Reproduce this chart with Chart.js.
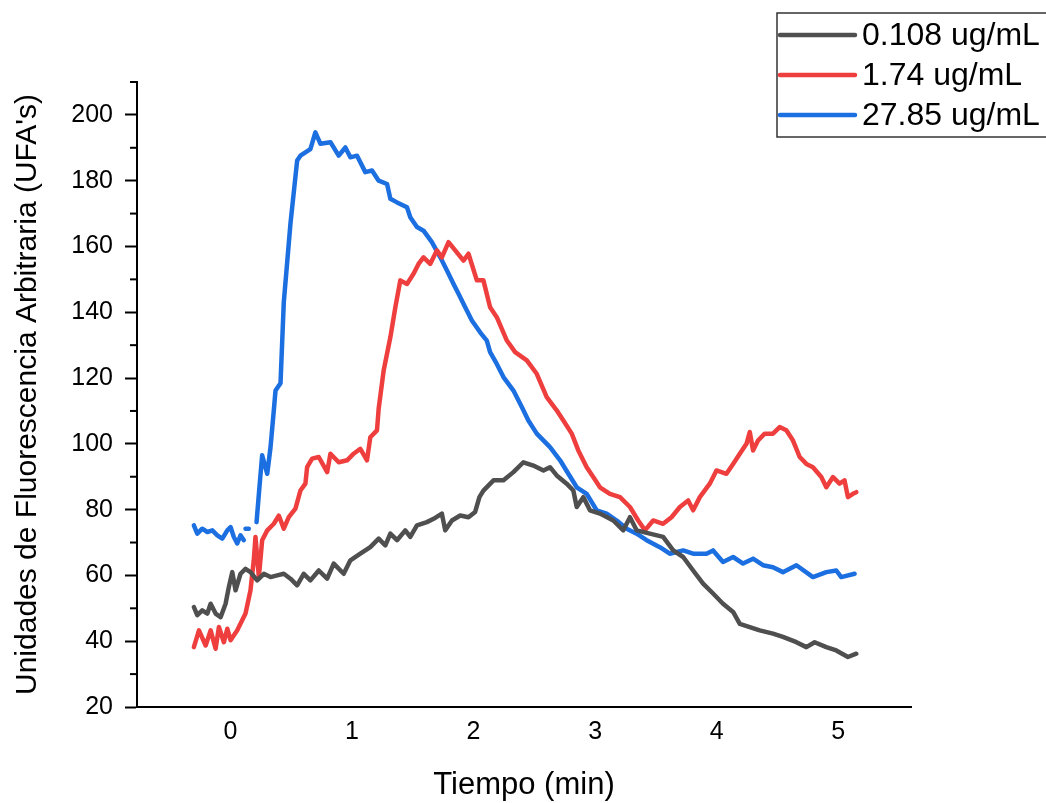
<!DOCTYPE html>
<html>
<head>
<meta charset="utf-8">
<script src="https://cdn.jsdelivr.net/npm/chart.js@4.4.1/dist/chart.umd.min.js"></script>
<style>
  html, body { margin: 0; padding: 0; background: #fff; }
  canvas { display: block; }
</style>
</head>
<body>
<canvas id="fluorChart" width="1046" height="803"></canvas>
<script>
// Series (time in min, fluorescence in UFA's)
const seriesLabels = ['0.108 ug/mL', '1.74 ug/mL', '27.85 ug/mL'];
const seriesColors = ['#4f4f4f', '#ef3e3e', '#1c6fe0'];

const grayTime = [-0.302, -0.274, -0.233, -0.191, -0.164, -0.123, -0.082, -0.041, -0.014, 0.014,
    0.041, 0.082, 0.123, 0.164, 0.219, 0.274, 0.329, 0.384, 0.438, 0.493,
    0.548, 0.602, 0.657, 0.726, 0.795, 0.849, 0.931, 0.986, 1.068, 1.150,
    1.219, 1.274, 1.315, 1.370, 1.438, 1.479, 1.534, 1.616, 1.671, 1.739,
    1.767, 1.822, 1.890, 1.958, 2.013, 2.048, 2.081, 2.164, 2.246, 2.328,
    2.410, 2.492, 2.575, 2.629, 2.684, 2.766, 2.821, 2.849, 2.903, 2.958,
    3.040, 3.150, 3.232, 3.287, 3.342, 3.451, 3.560, 3.643, 3.725, 3.807,
    3.889, 3.971, 4.053, 4.136, 4.191, 4.273, 4.355, 4.464, 4.546, 4.657,
    4.739, 4.807, 4.903, 4.985, 5.081, 5.150];
const grayValues = [50.4, 47.9, 49.4, 48.4, 51.4, 48.4, 47.3, 51.4, 56.5, 61.0,
    55.5, 60.5, 62.0, 61.0, 58.5, 60.5, 59.5, 60.0, 60.5, 59.0,
    57.0, 60.5, 58.5, 61.5, 59.0, 63.6, 60.5, 64.6, 66.6, 68.6,
    71.2, 69.1, 72.7, 70.7, 73.7, 71.7, 75.2, 76.2, 77.2, 78.8,
    73.7, 76.7, 78.2, 77.7, 79.3, 83.8, 85.8, 88.9, 88.9, 91.4,
    94.4, 93.4, 91.9, 92.9, 90.4, 87.9, 85.8, 80.8, 83.8, 79.8,
    78.8, 76.7, 73.7, 77.7, 73.7, 72.7, 71.7, 67.6, 65.6, 61.5,
    57.5, 54.5, 51.4, 48.9, 45.3, 44.3, 43.3, 42.3, 41.3, 39.7,
    38.2, 39.7, 38.2, 37.2, 35.2, 36.2];

const redTime = [-0.302, -0.260, -0.205, -0.164, -0.123, -0.096, -0.055, -0.027, 0.000, 0.055,
    0.123, 0.164, 0.191, 0.205, 0.233, 0.260, 0.302, 0.356, 0.397, 0.438,
    0.479, 0.534, 0.575, 0.616, 0.630, 0.671, 0.726, 0.795, 0.822, 0.890,
    0.959, 1.013, 1.068, 1.123, 1.150, 1.205, 1.219, 1.260, 1.315, 1.356,
    1.397, 1.452, 1.506, 1.547, 1.588, 1.643, 1.698, 1.739, 1.794, 1.849,
    1.917, 1.958, 2.027, 2.081, 2.136, 2.191, 2.274, 2.342, 2.438, 2.520,
    2.602, 2.684, 2.739, 2.808, 2.862, 2.931, 2.985, 3.040, 3.122, 3.205,
    3.287, 3.355, 3.410, 3.478, 3.560, 3.629, 3.698, 3.766, 3.807, 3.862,
    3.944, 3.999, 4.081, 4.136, 4.191, 4.246, 4.273, 4.300, 4.341, 4.396,
    4.464, 4.519, 4.574, 4.629, 4.684, 4.739, 4.793, 4.862, 4.903, 4.958,
    5.012, 5.053, 5.081, 5.122, 5.150];
const redValues = [38.2, 43.3, 38.7, 43.3, 37.7, 44.3, 39.7, 43.8, 40.3, 43.3,
    48.4, 55.5, 64.6, 71.7, 59.5, 70.7, 73.7, 75.7, 78.2, 74.2,
    77.7, 80.3, 85.8, 87.9, 92.9, 95.5, 96.0, 91.4, 97.0, 94.4,
    95.0, 97.0, 98.5, 95.0, 102.0, 104.1, 110.7, 122.3, 132.4, 141.5,
    149.7, 148.6, 151.7, 154.7, 156.7, 154.7, 158.8, 156.7, 161.3, 158.8,
    155.7, 157.8, 149.7, 149.7, 141.5, 138.5, 131.4, 127.9, 125.4, 121.3,
    114.2, 110.2, 107.1, 103.1, 98.0, 92.9, 89.9, 86.8, 84.8, 83.8,
    80.8, 76.7, 73.7, 76.7, 75.7, 77.7, 80.8, 82.8, 79.8, 83.8,
    87.9, 91.9, 90.9, 93.9, 97.0, 100.0, 103.6, 98.0, 101.0, 103.1,
    103.1, 105.1, 104.1, 101.0, 96.0, 93.9, 92.9, 89.9, 86.8, 89.9,
    87.9, 88.9, 83.8, 84.8, 85.3];

// null entries mark the short breaks in the 27.85 trace
const blueTime = [-0.302, -0.274, -0.233, -0.191, -0.150, -0.109, -0.068, -0.027, 0.000, 0.027,
    0.055, 0.082, 0.109, 0.116, 0.123, 0.150, 0.180, 0.214, 0.233, 0.260,
    0.302, 0.329, 0.356, 0.370, 0.411, 0.438, 0.493, 0.548, 0.575, 0.657,
    0.698, 0.740, 0.822, 0.890, 0.945, 0.986, 1.041, 1.109, 1.164, 1.219,
    1.288, 1.315, 1.370, 1.452, 1.479, 1.534, 1.588, 1.657, 1.726, 1.781,
    1.835, 1.876, 1.931, 1.986, 2.054, 2.109, 2.136, 2.191, 2.246, 2.328,
    2.397, 2.451, 2.520, 2.629, 2.712, 2.780, 2.849, 2.931, 3.013, 3.095,
    3.178, 3.260, 3.342, 3.424, 3.533, 3.615, 3.725, 3.807, 3.917, 3.971,
    4.053, 4.136, 4.218, 4.300, 4.382, 4.464, 4.546, 4.657, 4.793, 4.903,
    4.985, 5.026, 5.136];
const blueValues = [75.2, 72.7, 74.2, 73.2, 73.7, 72.2, 71.2, 73.7, 74.7, 71.7,
    69.7, 72.2, 70.7, null, 74.2, 74.2, null, 76.2, 84.8, 96.5,
    90.9, 99.0, 110.2, 116.2, 118.4, 143.0, 167.0, 186.1, 187.6, 189.6,
    194.7, 191.2, 191.7, 187.6, 190.1, 187.1, 187.6, 182.6, 183.1, 180.0,
    179.0, 174.5, 173.4, 171.9, 168.9, 165.9, 164.8, 161.3, 156.7, 152.7,
    148.6, 145.6, 141.5, 137.5, 133.9, 131.4, 127.9, 124.3, 120.3, 116.2,
    111.2, 107.1, 103.1, 99.0, 95.0, 90.9, 86.8, 84.8, 79.8, 78.8,
    76.7, 74.2, 72.7, 70.7, 68.6, 66.6, 67.6, 66.6, 66.6, 67.6,
    64.1, 65.6, 63.6, 65.1, 63.1, 62.5, 61.0, 63.1, 59.5, 61.0,
    61.5, 59.5, 60.5];

const xTicks = [0, 1, 2, 3, 4, 5];
const yTicks = [20, 40, 60, 80, 100, 120, 140, 160, 180, 200];
const yMinorTicks = [30, 50, 70, 90, 110, 130, 150, 170, 190, 210];

const toPoints = (t, v) => t.map((x, i) => ({ x: x, y: v[i] }));
const fontFamily = "'Liberation Sans', Arial, sans-serif";

// short minor ticks on the left axis
const minorTicks = {
    id: 'minorTicks',
    afterDraw(chart) {
        const scale = chart.scales.y;
        const ctx = chart.ctx;
        ctx.save();
        ctx.strokeStyle = '#000';
        ctx.lineWidth = 2;
        yMinorTicks.forEach(v => {
            const py = scale.getPixelForValue(v);
            ctx.beginPath();
            ctx.moveTo(scale.right - 7, py);
            ctx.lineTo(scale.right, py);
            ctx.stroke();
        });
        ctx.restore();
    }
};

// boxed legend in the top-right corner
const boxLegend = {
    id: 'boxLegend',
    afterDraw(chart) {
        const ctx = chart.ctx;
        ctx.save();
        ctx.strokeStyle = '#333';
        ctx.lineWidth = 1.5;
        ctx.strokeRect(777, 13, 320, 124);
        ctx.font = '32px ' + fontFamily;
        ctx.textBaseline = 'middle';
        chart.data.datasets.forEach((ds, i) => {
            const yy = 35 + i * 40;
            ctx.strokeStyle = ds.borderColor;
            ctx.lineWidth = 4.5;
            ctx.lineCap = 'round';
            ctx.beginPath();
            ctx.moveTo(780, yy);
            ctx.lineTo(855, yy);
            ctx.stroke();
            ctx.fillStyle = '#000';
            ctx.fillText(ds.label, 862, yy + 1);
        });
        ctx.restore();
    }
};

new Chart(document.getElementById('fluorChart').getContext('2d'), {
    type: 'line',
    data: {
        datasets: [
            { label: seriesLabels[0], data: toPoints(grayTime, grayValues), borderColor: seriesColors[0] },
            { label: seriesLabels[1], data: toPoints(redTime, redValues), borderColor: seriesColors[1] },
            { label: seriesLabels[2], data: toPoints(blueTime, blueValues), borderColor: seriesColors[2] }
        ]
    },
    options: {
        responsive: false,
        animation: false,
        layout: { padding: { top: 82, right: 135, bottom: 0, left: 0 } },
        elements: {
            point: { radius: 0 },
            line: { borderWidth: 4.5, tension: 0, borderJoinStyle: 'round', borderCapStyle: 'round' }
        },
        plugins: { legend: { display: false }, tooltip: { enabled: false } },
        scales: {
            x: {
                type: 'linear',
                min: -0.77,
                max: 5.6,
                afterBuildTicks: s => { s.ticks = xTicks.map(v => ({ value: v })); },
                afterFit: s => { s.height = 96; },
                grid: { drawOnChartArea: false, drawTicks: false },
                border: { color: '#000', width: 2 },
                ticks: { color: '#000', padding: 10, font: { size: 25, family: fontFamily } },
                title: {
                    display: true,
                    text: 'Tiempo (min)',
                    color: '#000',
                    padding: { top: 0, bottom: 0 },
                    font: { size: 31, family: fontFamily, lineHeight: 1.1 }
                }
            },
            y: {
                min: 20,
                max: 210,
                afterBuildTicks: s => { s.ticks = yTicks.map(v => ({ value: v })); },
                afterFit: s => { s.width = 137; },
                grid: { drawOnChartArea: false, drawTicks: true, tickLength: 12, tickWidth: 2, tickColor: '#000' },
                border: { color: '#000', width: 2 },
                ticks: { color: '#000', padding: 12, font: { size: 25, family: fontFamily } },
                title: {
                    display: true,
                    text: "Unidades de Fluorescencia Arbitraria (UFA's)",
                    color: '#000',
                    padding: { top: 11, bottom: 0 },
                    font: { size: 30, family: fontFamily, lineHeight: 1.1 }
                }
            }
        }
    },
    plugins: [minorTicks, boxLegend]
});
</script>
</body>
</html>
